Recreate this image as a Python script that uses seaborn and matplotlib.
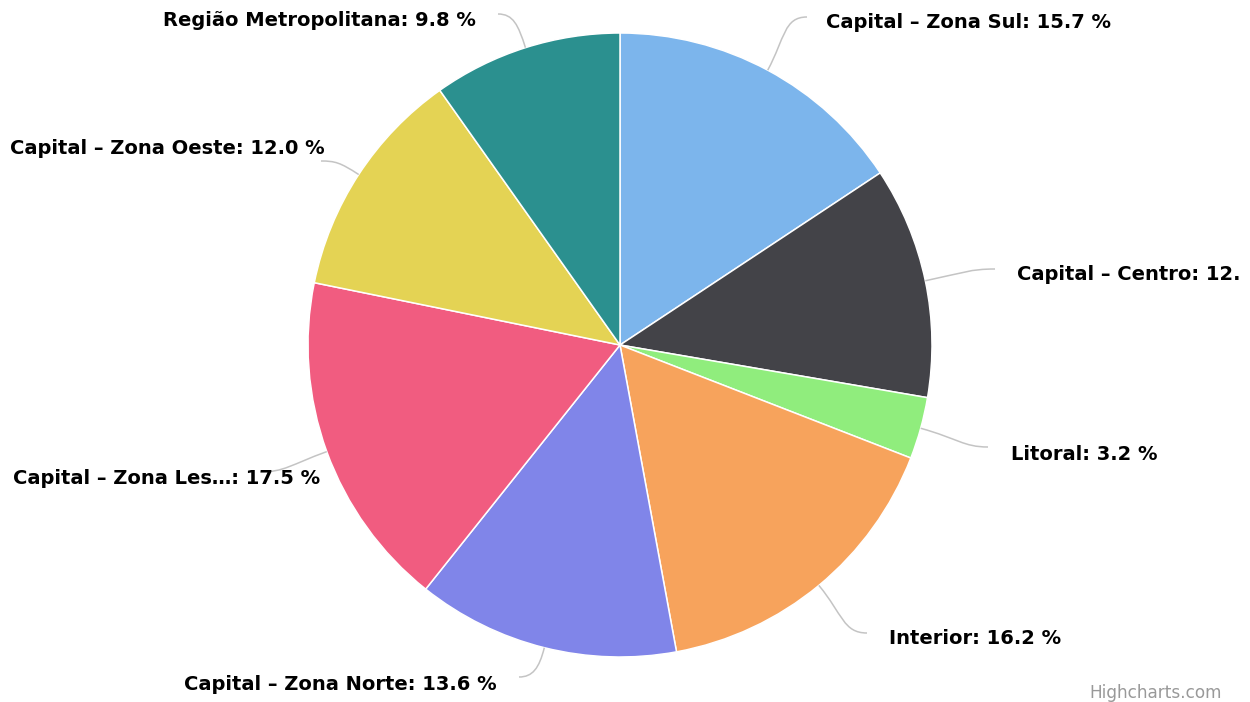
import numpy as np
import matplotlib
matplotlib.use("Agg")
import matplotlib.pyplot as plt
from matplotlib.path import Path
from matplotlib.patches import PathPatch
from matplotlib.transforms import Bbox, TransformedBbox
import seaborn as sns

# ---- data ----
categories = ["Capital – Zona Sul", "Capital – Centro", "Litoral", "Interior",
              "Capital – Zona Norte", "Capital – Zona Les\u2026", "Capital – Zona Oeste",
              "Região Metropolitana"]
shares = [15.7, 12.0, 3.2, 16.2, 13.6, 17.5, 12.0, 9.8]
colors = ["#7cb5ec", "#434348", "#90ed7d", "#f7a35c", "#8085e9", "#f15c80", "#e4d354", "#2b908f"]

# ---- layout (pixel space, y measured from top) ----
W, H = 1250, 702
CX, CY, R = 620, 345, 312
# connector end points and label anchors (x, y, horizontal alignment)
conn_end = [(807, 17), (995, 269), (988, 447), (867, 633),
            (519, 677), (260, 472), (321, 161), (498, 14)]
label_anchor = [(826, 21, "left"), (1017, 273, "left"), (1011, 452, "left"), (889, 637, "left"),
                (497, 683, "right"), (320, 476, "right"), (325, 146, "right"), (476, 18, "right")]

sns.set_theme(style="white")
plt.rcParams["font.family"] = ["DejaVu Sans"]

fig = plt.figure(figsize=(W / 100, H / 100), dpi=100)
ax = fig.add_axes([0, 0, 1, 1])

pal = sns.color_palette(colors)
wedges, _ = ax.pie(shares, colors=pal, startangle=90, counterclock=False,
                   center=(CX, H - CY), radius=R,
                   wedgeprops=dict(edgecolor="white", linewidth=1.1))
ax.set_xlim(0, W)
ax.set_ylim(0, H)
ax.set_aspect("equal")
ax.axis("off")

# the reference clips labels at the chart's right border
clipbox = TransformedBbox(Bbox([[0, 0], [1241, H]]), ax.transData)

for w, val, name, (ex, ey), (lx, ly, ha) in zip(wedges, shares, categories, conn_end, label_anchor):
    mid = np.deg2rad((w.theta1 + w.theta2) / 2)
    ux, uy = np.cos(mid), np.sin(mid)
    p0 = (CX + R * ux, H - CY + R * uy)
    p3 = (ex, H - ey)
    L = np.hypot(p3[0] - p0[0], p3[1] - p0[1])
    p1 = (p0[0] + ux * 0.55 * L, p0[1] + uy * 0.55 * L)
    sgn = 1 if ha == "left" else -1
    p2 = (p3[0] - sgn * 0.35 * L, p3[1])
    path = Path([p0, p1, p2, p3], [Path.MOVETO, Path.CURVE4, Path.CURVE4, Path.CURVE4])
    ax.add_patch(PathPatch(path, facecolor="none", edgecolor="#c4c4c4", linewidth=1.1, zorder=3))
    t = ax.text(lx, H - ly, f"{name}: {val:.1f} %", ha=ha, va="center_baseline",
                fontsize=14.0, fontweight="bold", color="#000000", zorder=5)
    t.set_clip_on(True)
    t.set_clip_path(None)
    t.set_clip_box(clipbox)

ax.text(1222, H - 691, "Highcharts.com", ha="right", va="center_baseline",
        fontsize=12.2, color="#999999")

fig.savefig("out.png", dpi=100)
